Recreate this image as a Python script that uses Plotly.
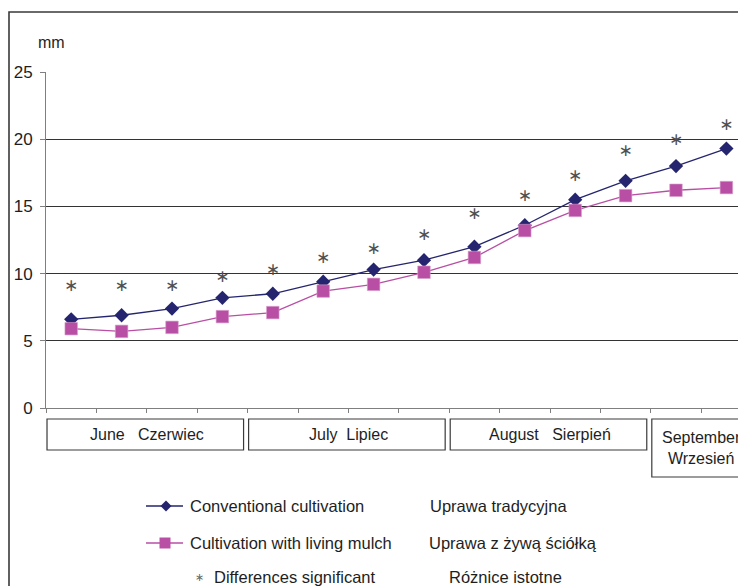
import plotly.graph_objects as go

# Weekly measurements (mm)
weeks = list(range(14))
conventional = [6.6, 6.9, 7.4, 8.2, 8.5, 9.4, 10.3, 11.0, 12.0, 13.6, 15.5, 16.9, 18.0, 19.3]
living_mulch = [5.9, 5.7, 6.0, 6.8, 7.1, 8.7, 9.2, 10.1, 11.2, 13.2, 14.7, 15.8, 16.2, 16.4]
# height at which the significance marker is printed for each week
signif_y = [9.0, 9.0, 9.0, 9.7, 10.2, 11.1, 11.8, 12.8, 14.4, 15.7, 17.2, 19.1, 19.9, 21.0]

months = ["June\u00a0\u00a0\u00a0Czerwiec", "July\u00a0\u00a0Lipiec", "August\u00a0\u00a0\u00a0Sierpień", "September<br>Wrzesień"]
month_first = [0, 4, 8, 12]
month_last = [3, 7, 11, 13]

legend_en = ["Conventional cultivation", "Cultivation with living mulch", "Differences significant"]
legend_pl = ["Uprawa tradycyjna", "Uprawa z żywą ściółką", "Różnice istotne"]

W, H = 738, 586
NAVY = "#25256f"
PINK = "#b84fa4"
TXT = "#1e1e1e"
FONT = "Liberation Sans, Arial, sans-serif"
STAR = "\u2217"


def fx(px):
    return px / W


def fy(py):
    return 1 - py / H


fig = go.Figure()

fig.add_trace(go.Scatter(
    x=weeks, y=conventional, mode="lines+markers",
    line=dict(color=NAVY, width=1.3),
    marker=dict(symbol="diamond", size=11, color=NAVY),
    showlegend=False))
fig.add_trace(go.Scatter(
    x=weeks, y=living_mulch, mode="lines+markers",
    line=dict(color=PINK, width=1.3),
    marker=dict(symbol="square", size=12.5, color=PINK, line=dict(color="#d69ccb", width=0.6)),
    showlegend=False))
fig.add_trace(go.Scatter(
    x=weeks, y=signif_y, mode="text", text=[STAR] * len(weeks),
    textposition="middle center",
    textfont=dict(family="DejaVu Sans", size=17, color="#505050"),
    showlegend=False))

# legend key symbols, drawn on a full-page axis pair in pixel units
key_rows = [506, 543]
key_axes = dict(xaxis="x2", yaxis="y2", showlegend=False, hoverinfo="skip")
fig.add_trace(go.Scatter(x=[146, 183], y=[key_rows[0]] * 2, mode="lines",
                         line=dict(color=NAVY, width=1.3), **key_axes))
fig.add_trace(go.Scatter(x=[166], y=[key_rows[0]], mode="markers",
                         marker=dict(symbol="diamond", size=8.5, color=NAVY), **key_axes))
fig.add_trace(go.Scatter(x=[146, 183], y=[key_rows[1]] * 2, mode="lines",
                         line=dict(color=PINK, width=1.3), **key_axes))
fig.add_trace(go.Scatter(x=[165], y=[key_rows[1]], mode="markers",
                         marker=dict(symbol="square", size=11, color=PINK), **key_axes))

shapes = []
# outer frame (runs off the right and bottom edges)
shapes.append(dict(type="rect", xref="paper", yref="paper",
                   x0=fx(9), x1=fx(790), y0=fy(640), y1=fy(12),
                   line=dict(color="#3a3a3a", width=1.6), layer="below"))

# month boxes under the axis
for i, (a, b) in enumerate(zip(month_first, month_last)):
    bottom = 477 if i == 3 else 450
    shapes.append(dict(type="rect", xref="x", yref="paper",
                       x0=a - 0.48, x1=b + 0.42 if i < 3 else b + 1.2,
                       y0=fy(bottom), y1=fy(419),
                       line=dict(color="#3a3a3a", width=1.2)))

annotations = []
for i, (a, b) in enumerate(zip(month_first, month_last)):
    cy = 448 if i == 3 else 434.5
    annotations.append(dict(x=(a + b) / 2, y=fy(cy), xref="x", yref="paper",
                            text=months[i], showarrow=False, xanchor="center", yanchor="middle",
                            font=dict(family=FONT, size=16, color=TXT)))

annotations.append(dict(x=fx(36), y=fy(43), xref="paper", yref="paper", text="mm",
                        showarrow=False, xanchor="left", yanchor="middle",
                        font=dict(family=FONT, size=16, color=TXT)))

legend_rows = [506, 543, 577]
en_x = [188, 188, 212]
pl_x = [428, 427, 447]
for i in range(3):
    annotations.append(dict(x=fx(en_x[i]), y=fy(legend_rows[i]), xref="paper", yref="paper",
                            text=legend_en[i], showarrow=False, xanchor="left", yanchor="middle",
                            font=dict(family=FONT, size=16.5, color=TXT)))
    annotations.append(dict(x=fx(pl_x[i]), y=fy(legend_rows[i]), xref="paper", yref="paper",
                            text=legend_pl[i], showarrow=False, xanchor="left", yanchor="middle",
                            font=dict(family=FONT, size=16.5, color=TXT)))
annotations.append(dict(x=fx(200), y=fy(577), xref="paper", yref="paper", text=STAR,
                        showarrow=False, xanchor="center", yanchor="middle",
                        font=dict(family="DejaVu Sans", size=11, color="#666666")))

step = 50.4
x_left = 46
fig.update_layout(
    template="none",
    width=W, height=H,
    margin=dict(l=0, r=0, t=0, b=0, pad=0, autoexpand=False),
    paper_bgcolor="white", plot_bgcolor="rgba(0,0,0,0)",
    font=dict(family=FONT, color=TXT),
    shapes=shapes, annotations=annotations,
    showlegend=False,
    xaxis=dict(domain=[fx(x_left), 1], range=[-0.5, -0.5 + (W - x_left) / step],
               tickvals=[i - 0.5 for i in range(15)], showticklabels=False,
               ticks="outside", ticklen=4, tickcolor="#7f7f7f",
               showline=True, linecolor="#7f7f7f", linewidth=1,
               showgrid=False, zeroline=False, fixedrange=True, automargin=False),
    yaxis=dict(domain=[fy(408), fy(72)], range=[0, 25], tickvals=[0, 5, 10, 15, 20, 25],
               ticks="outside", ticklen=5, tickcolor="#7f7f7f",
               showline=True, linecolor="#7f7f7f", linewidth=1,
               showgrid=True, gridcolor="#333333", gridwidth=1, zeroline=False,
               tickfont=dict(family=FONT, size=17, color=TXT), ticklabelstandoff=4,
               automargin=False),
    xaxis2=dict(domain=[0, 1], range=[0, W], visible=False, anchor="y2", automargin=False),
    yaxis2=dict(domain=[0, 1], range=[H, 0], visible=False, anchor="x2", automargin=False),
)

fig.write_html("out.html")
